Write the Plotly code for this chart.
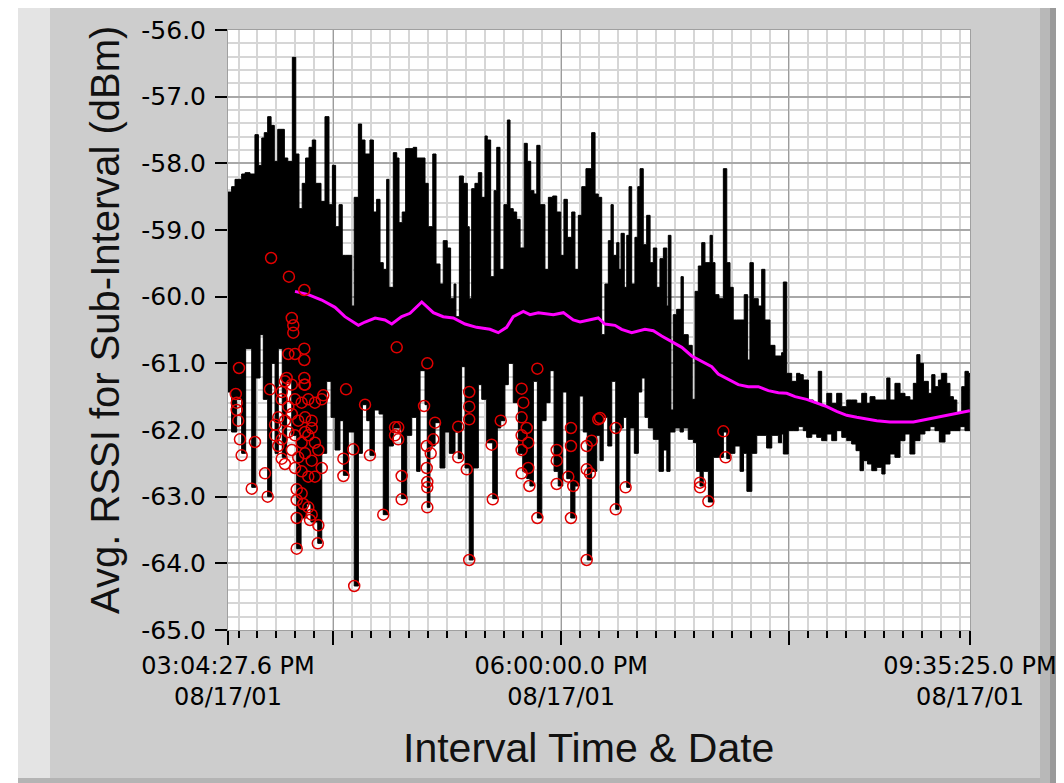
import pandas as pd
import plotly.graph_objects as go

# ---------------- data (minutes after 03:04:27.6 PM, dBm) ----------------
start_time = "2001-08-17 15:04:27.6"
end_time = "2001-08-17 21:35:25.0"

upper_min = [0.0, 1.9, 3.7, 7.2, 9.0, 11.6, 14.2, 16.0, 17.8, 19.1, 20.9, 22.7, 24.4, 26.2, 27.9, 29.7, 31.5, 33.9, 35.7, 37.4,
             39.1, 40.9, 42.7, 44.4, 46.2, 49.0, 51.1, 53.2, 55.0, 56.7, 58.5, 60.2, 62.0, 63.8, 65.2, 66.5, 68.7, 70.4, 72.2, 74.8,
             76.6, 78.3, 80.1, 81.8, 83.6, 84.8, 87.1, 88.9, 90.1, 91.8, 93.6, 95.9, 97.6, 99.4, 103.8, 105.5, 107.9, 109.6, 111.7, 113.4,
             115.5, 117.3, 119.1, 120.1, 121.9, 124.0, 126.1, 127.1, 128.4, 130.1, 131.9, 133.7, 135.4, 136.6, 138.4, 140.2, 141.6, 143.3, 145.4, 147.2,
             148.6, 150.3, 152.1, 153.9, 156.1, 157.7, 159.5, 161.2, 162.7, 164.4, 167.0, 168.8, 171.1, 173.2, 175.3, 177.0, 178.8, 181.1, 182.8, 184.6,
             186.4, 188.6, 191.6, 193.4, 195.1, 196.9, 198.6, 200.4, 201.8, 203.0, 204.8, 206.0, 207.1, 208.8, 210.1, 211.3, 212.7, 214.4, 215.9, 217.1,
             218.8, 220.6, 222.4, 224.1, 225.9, 227.6, 229.4, 231.2, 232.0, 233.4, 234.6, 236.4, 238.7, 239.9, 242.5, 244.6, 246.1, 247.8, 249.6, 251.3,
             254.0, 255.2, 256.6, 258.7, 261.0, 262.8, 264.5, 266.2, 268.0, 269.8, 272.0, 273.8, 275.0, 276.8, 279.4, 281.2, 282.9, 285.6, 288.2, 291.7,
             292.6, 294.4, 297.0, 299.6, 301.4, 303.1, 305.8, 308.4, 311.0, 312.8, 315.5, 318.1, 320.7, 323.4, 326.0, 328.6, 331.3, 333.9, 336.5, 338.3,
             340.9, 343.5, 345.3, 347.1, 348.8, 351.4, 354.1, 356.7, 359.3, 361.1, 362.9, 364.6, 366.4, 369.0, 370.8, 372.5, 374.3, 376.0, 378.7, 380.4,
             382.2, 384.0, 386.6, 388.3, 390.1, 390.9]
upper_val = [-58.43, -58.35, -58.24, -58.16, -58.14, -58.16, -57.57, -58.03, -57.62, -57.54, -57.30, -57.43, -57.97, -57.49, -57.49, -57.92, -57.97, -56.41, -57.86, -58.68,
             -58.30, -57.92, -57.76, -57.65, -58.30, -58.57, -57.30, -58.62, -58.03, -58.95, -58.62, -59.38, -59.38, -59.38, -60.14, -58.51, -57.41, -57.65, -57.86, -57.65,
             -58.73, -58.54, -59.49, -59.59, -58.24, -59.86, -57.84, -57.92, -58.89, -58.73, -57.78, -57.78, -57.76, -57.92, -58.30, -58.95, -57.86, -59.51, -59.81, -59.16,
             -59.27, -60.03, -59.81, -60.30, -58.19, -58.30, -58.95, -60.03, -58.38, -58.30, -58.14, -58.51, -57.59, -57.65, -59.70, -58.41, -57.76, -59.59, -58.62, -57.35,
             -58.68, -58.73, -58.84, -59.27, -57.70, -57.97, -58.41, -58.46, -57.73, -58.62, -59.59, -58.51, -58.49, -58.73, -59.38, -58.54, -59.11, -58.73, -59.59, -58.78,
             -58.35, -58.08, -57.54, -58.46, -58.51, -60.57, -59.81, -59.16, -58.62, -59.38, -59.19, -59.59, -59.05, -59.86, -59.08, -58.35, -59.81, -59.11, -58.35, -58.08,
             -59.22, -58.78, -59.49, -59.27, -59.86, -59.43, -59.27, -60.14, -59.08, -61.70, -60.27, -60.19, -59.70, -60.57, -60.73, -61.54, -59.92, -59.54, -59.19, -59.49,
             -59.08, -59.49, -59.97, -60.03, -58.08, -59.49, -59.86, -60.35, -60.35, -60.35, -59.97, -60.95, -59.49, -60.03, -60.14, -59.59, -60.35, -60.73, -60.89, -60.84,
             -59.78, -61.15, -61.27, -61.15, -61.17, -61.25, -61.55, -61.60, -61.12, -61.65, -61.45, -61.60, -61.45, -61.65, -61.55, -61.55, -61.60, -61.45, -61.60, -61.50,
             -61.55, -61.55, -61.55, -61.22, -61.55, -61.30, -61.45, -61.50, -61.55, -61.30, -60.87, -61.00, -61.27, -61.45, -61.17, -61.35, -61.25, -61.15, -61.30, -61.50,
             -61.55, -61.75, -61.35, -61.12, -61.15, -61.20]

lower_min = [0.0, 1.9, 4.6, 7.2, 9.3, 12.5, 14.6, 16.9, 18.6, 20.9, 23.0, 24.8, 26.5, 28.6, 30.9, 33.6, 36.2, 38.5, 41.5, 43.7,
             47.3, 49.4, 52.0, 54.3, 56.4, 59.0, 60.8, 63.4, 66.5, 68.7, 70.8, 73.1, 74.8, 77.1, 79.6, 81.8, 84.5, 87.1, 89.4, 91.5,
             94.2, 96.8, 99.4, 101.2, 103.8, 105.0, 106.4, 109.1, 111.7, 114.3, 116.6, 119.6, 121.3, 123.1, 124.9, 127.1, 129.2, 131.9, 133.7, 136.3,
             139.5, 141.9, 143.7, 145.9, 147.7, 150.3, 153.0, 155.3, 157.4, 159.1, 160.9, 163.0, 165.3, 167.6, 169.7, 171.8, 174.0, 176.4, 178.5, 180.6,
             182.8, 185.1, 187.2, 189.3, 191.6, 194.3, 196.0, 197.7, 200.1, 202.2, 204.3, 206.0, 208.3, 210.1, 211.8, 214.1, 216.2, 218.0, 219.7, 221.5,
             224.1, 227.1, 229.4, 231.2, 232.9, 235.5, 238.2, 239.9, 242.5, 245.2, 246.9, 248.7, 250.4, 253.1, 255.7, 258.3, 261.0, 262.8, 264.5, 267.1,
             269.8, 271.6, 273.4, 276.0, 278.6, 280.3, 283.8, 286.5, 290.0, 291.7, 292.6, 295.2, 297.9, 300.5, 303.1, 304.9, 307.6, 310.2, 312.8, 315.5,
             318.1, 320.7, 323.4, 326.0, 328.6, 330.9, 333.0, 334.8, 336.9, 339.2, 341.8, 344.5, 346.2, 348.8, 351.4, 354.1, 356.7, 359.3, 361.9, 364.6,
             367.2, 369.9, 372.5, 374.8, 377.8, 380.4, 383.0, 385.7, 388.3, 390.9]
lower_val = [-61.43, -62.03, -61.54, -62.35, -60.78, -62.86, -61.22, -60.57, -61.54, -63.00, -61.00, -62.35, -60.78, -62.41, -61.27, -62.08, -63.78, -63.32, -63.11, -63.38,
             -63.70, -62.35, -61.27, -61.81, -62.30, -61.86, -62.68, -62.03, -64.34, -62.35, -61.62, -61.86, -62.38, -61.70, -61.76, -63.27, -62.24, -61.97, -61.97, -63.03,
             -62.08, -61.81, -62.62, -61.11, -61.62, -63.16, -62.24, -61.89, -62.57, -62.03, -62.35, -62.03, -62.43, -61.05, -62.57, -63.95, -62.57, -61.32, -61.54, -62.19,
             -63.03, -61.97, -61.86, -61.32, -61.00, -61.59, -62.35, -62.62, -62.73, -62.84, -61.27, -63.32, -61.86, -61.59, -61.11, -62.62, -62.84, -61.43, -62.73, -63.32,
             -62.84, -61.49, -62.03, -63.95, -62.62, -62.08, -62.46, -61.81, -62.24, -61.27, -63.19, -61.97, -61.81, -62.86, -61.97, -62.35, -61.43, -61.22, -61.81, -61.97,
             -62.14, -62.62, -62.30, -62.62, -62.03, -61.97, -62.03, -61.97, -62.14, -62.19, -62.62, -62.84, -62.62, -63.08, -62.41, -62.41, -62.03, -62.43, -62.35, -62.24,
             -62.62, -62.35, -62.92, -62.35, -62.08, -62.08, -62.27, -62.08, -62.19, -62.06, -62.36, -62.01, -62.01, -61.95, -62.01, -62.11, -62.06, -62.11, -62.16, -62.06,
             -62.16, -62.01, -62.11, -62.16, -62.21, -62.31, -62.61, -62.46, -62.51, -62.61, -62.56, -62.66, -62.51, -62.36, -62.41, -62.16, -62.06, -62.36, -62.16, -62.06,
             -62.01, -61.95, -62.01, -62.18, -62.06, -62.01, -62.01, -61.95, -62.01, -62.01]

avg_min = [35.3, 42.3, 49.4, 56.4, 61.6, 68.7, 72.2, 77.5, 82.7, 86.3, 91.5, 95.9, 102.1, 108.2, 113.4, 118.7, 124.9, 131.0, 138.0, 142.4,
           146.8, 150.3, 155.6, 159.1, 163.5, 171.4, 176.7, 181.9, 185.5, 190.7, 195.1, 198.6, 203.9, 207.4, 212.7, 219.7, 224.1, 228.5, 233.8, 239.1,
           244.3, 249.6, 254.9, 258.3, 263.6, 268.9, 274.1, 279.4, 284.7, 290.0, 294.4, 298.8, 304.9, 310.2, 315.5, 320.7, 326.0, 331.3, 336.5, 341.8,
           348.8, 355.8, 361.1, 366.4, 371.6, 376.9, 382.2, 386.6, 390.9]
avg_val = [-59.92, -59.97, -60.05, -60.16, -60.30, -60.43, -60.38, -60.32, -60.35, -60.41, -60.30, -60.25, -60.08, -60.24, -60.30, -60.32, -60.41, -60.46, -60.49, -60.54,
           -60.46, -60.30, -60.22, -60.27, -60.24, -60.27, -60.24, -60.35, -60.38, -60.35, -60.32, -60.41, -60.43, -60.49, -60.54, -60.49, -60.51, -60.59, -60.68, -60.76,
           -60.89, -60.97, -61.05, -61.16, -61.24, -61.32, -61.35, -61.35, -61.41, -61.44, -61.45, -61.50, -61.54, -61.59, -61.65, -61.72, -61.78, -61.81, -61.84, -61.86,
           -61.88, -61.88, -61.88, -61.85, -61.82, -61.79, -61.76, -61.74, -61.71]

outlier_min = [22.7, 32.1, 40.2, 33.6, 34.4, 34.4, 31.8, 35.3, 40.2, 40.2, 5.8, 40.2, 40.2, 22.1, 30.0, 50.2, 62.2, 4.1, 4.6, 4.6,
               5.4, 6.3, 7.2, 14.2, 12.5, 19.5, 20.9, 28.3, 72.2, 74.8, 66.0, 60.8, 60.8, 88.9, 81.8, 88.0, 89.7, 88.0, 89.7, 91.5,
               91.5, 66.5, 28.3, 31.8, 35.3, 38.8, 42.3, 45.8, 26.5, 30.0, 33.6, 37.0, 40.6, 44.1, 24.8, 28.3, 31.8, 35.3, 38.8, 42.3,
               45.8, 47.6, 26.5, 33.6, 37.0, 40.6, 44.1, 49.4, 35.3, 38.8, 42.3, 45.8, 36.2, 38.8, 36.2, 39.7, 42.3, 44.1, 36.2, 43.2,
               47.6, 36.2, 47.3, 30.9, 33.6, 40.6, 28.3, 49.4, 24.8, 44.1, 40.6, 30.0,
               105.0, 103.3, 109.1, 108.2, 104.7, 106.8, 104.7, 105.0, 105.0, 105.0, 127.1, 127.1, 127.1, 121.3, 121.3, 125.8, 127.1, 143.7, 138.9, 139.5,
               154.7, 155.6, 154.7, 157.4, 154.7, 158.2, 154.7, 158.2, 154.7, 158.8, 163.0, 163.0, 173.2, 173.2, 173.2, 180.7, 180.7, 179.3, 181.9, 180.7,
               189.0, 191.6, 189.0, 190.7, 189.0, 195.1, 196.0, 204.3, 204.3, 209.5, 261.0, 262.2, 248.7, 248.7, 253.1]
outlier_val = [-59.42, -59.70, -59.90, -60.32, -60.43, -60.54, -60.86, -60.86, -60.78, -60.95, -61.07, -61.22, -61.32, -61.39, -61.27, -61.48, -61.39, -61.46, -61.59, -61.70,
               -61.86, -62.14, -62.38, -62.18, -62.88, -62.65, -63.00, -62.43, -61.62, -62.38, -62.29, -62.43, -62.69, -60.76, -63.27, -61.96, -61.96, -62.08, -62.14, -62.69,
               -63.04, -64.34, -61.54, -61.65, -61.54, -61.59, -61.54, -61.59, -61.81, -61.86, -61.76, -61.86, -61.81, -61.86, -62.08, -62.14, -62.03, -62.08, -62.19, -62.08,
               -62.19, -62.30, -62.24, -62.30, -62.41, -62.35, -62.46, -62.57, -62.57, -62.62, -62.70, -62.70, -62.89, -62.95, -63.05, -63.11, -63.16, -63.27, -63.32, -63.35,
               -63.43, -63.78, -63.70, -61.22, -61.32, -61.32, -61.43, -61.54, -61.92, -61.97, -62.03, -62.51,
               -61.00, -61.64, -61.89, -62.14, -62.24, -62.35, -62.57, -62.78, -62.86, -63.16, -61.43, -61.65, -61.84, -61.95, -62.41, -62.59, -63.95, -61.86, -62.22, -63.04,
               -61.38, -61.59, -61.81, -61.97, -62.08, -62.19, -62.30, -62.57, -62.65, -62.84, -61.08, -63.32, -62.30, -62.46, -62.81, -61.97, -62.24, -62.70, -62.84, -63.32,
               -62.24, -62.16, -62.59, -62.65, -63.95, -61.84, -61.82, -61.97, -63.19, -62.86, -62.02, -62.41, -62.79, -62.86, -63.07]

x_tick_vals = ["2001-08-17 15:04:27.6", "2001-08-17 16:00:00", "2001-08-17 18:00:00",
               "2001-08-17 20:00:00", "2001-08-17 21:35:25.0"]
x_tick_text = ["03:04:27.6 PM<br>08/17/01", "", "06:00:00.0 PM<br>08/17/01", "",
               "09:35:25.0 PM<br>08/17/01"]
y_tick_vals = [-65, -64, -63, -62, -61, -60, -59, -58, -57, -56]
y_tick_text = ["-65.0", "-64.0", "-63.0", "-62.0", "-61.0", "-60.0", "-59.0", "-58.0", "-57.0", "-56.0"]
y_title = "Avg. RSSI for Sub-Interval (dBm)"
x_title = "Interval Time & Date"

# ---------------- build ----------------
base = pd.Timestamp(start_time)


def to_time(mins):
    return base + pd.to_timedelta(mins, unit="min")


fig = go.Figure()
fig.add_trace(go.Scatter(x=to_time(upper_min), y=upper_val, mode="lines",
                         line=dict(color="black", width=1, shape="hv"), showlegend=False))
fig.add_trace(go.Scatter(x=to_time(lower_min), y=lower_val, mode="lines",
                         line=dict(color="black", width=1, shape="hv"),
                         fill="tonexty", fillcolor="black", showlegend=False))
fig.add_trace(go.Scatter(x=to_time(avg_min), y=avg_val, mode="lines",
                         line=dict(color="#ff00ff", width=3), showlegend=False))
fig.add_trace(go.Scatter(x=to_time(outlier_min), y=outlier_val, mode="markers",
                         marker=dict(symbol="circle-open", size=11, color="#e00000",
                                     line=dict(width=1.5, color="#e00000")),
                         showlegend=False))

# The page body adds an 8 px offset; the figure is laid out so the plot
# lands at screen x 228..970, y 30..630.
OFF = 8
W, H = 1064, 783
L, R, T, B = 220, 102, 22, 161
pw, ph = W - L - R, H - T - B


def px_x(px):
    return (px - OFF - L) / pw


def px_y(py):
    return 1 - (py - OFF - T) / ph


tick_font = dict(family="DejaVu Sans", size=24, color="black")

fig.update_layout(
    width=W, height=H,
    margin=dict(l=L, r=R, t=T, b=B, autoexpand=False),
    paper_bgcolor="#cdcdcd",
    plot_bgcolor="white",
    showlegend=False,
    xaxis=dict(
        type="date", automargin=False,
        range=[start_time, end_time],
        tickmode="array", tickvals=x_tick_vals, ticktext=x_tick_text,
        ticks="outside", ticklen=14, tickwidth=2, tickcolor="black",
        tickfont=tick_font,
        showgrid=True, gridcolor="#9c9c9c", gridwidth=1,
        minor=dict(dtick=600000, tick0="2001-08-17 15:00:00", ticks="outside",
                   ticklen=7, tickwidth=2, tickcolor="black",
                   showgrid=True, gridcolor="#d6d6d6", gridwidth=2),
        showline=True, linecolor="#a0a0a0", linewidth=1, mirror=True,
        zeroline=False,
    ),
    yaxis=dict(
        automargin=False,
        range=[-65, -56],
        tickmode="array", tickvals=y_tick_vals, ticktext=y_tick_text,
        ticks="outside", ticklen=12, tickwidth=2, tickcolor="black",
        ticklabelstandoff=4,
        tickfont=dict(family="DejaVu Sans", size=25, color="black"),
        showgrid=True, gridcolor="#a8a8a8", gridwidth=2,
        minor=dict(dtick=0.2, tick0=-65, showgrid=True, gridcolor="#d6d6d6", gridwidth=2),
        showline=True, linecolor="#a0a0a0", linewidth=1, mirror=True,
        zeroline=False,
    ),
)

# window frame (bevels), given in screen pixels
frame = [
    (0, 0, 18, H + OFF, "white"),
    (0, 0, W + OFF, 5, "white"),
    (18, 5, 50, H + OFF, "#e4e4e4"),
    (1040, 5, 1050, H + OFF, "#b8b8b8"),
    (1050, 5, W + OFF, H + OFF, "#9a9a9a"),
    (18, 778, 1040, H + OFF, "#b4b4b4"),
]
for x0, y0, x1, y1, c in frame:
    fig.add_shape(type="rect", xref="paper", yref="paper",
                  x0=px_x(x0), x1=px_x(x1), y0=px_y(y1), y1=px_y(y0),
                  fillcolor=c, line=dict(width=0), layer="below")

fig.add_annotation(text=y_title, xref="paper", yref="paper",
                   x=px_x(105), y=px_y(320), textangle=-90, showarrow=False,
                   xanchor="center", yanchor="middle",
                   font=dict(family="Liberation Sans", size=40, color="#111111"))
fig.add_annotation(text=x_title, xref="paper", yref="paper",
                   x=px_x(588), y=px_y(748), showarrow=False,
                   xanchor="center", yanchor="middle",
                   font=dict(family="Liberation Sans", size=41, color="#111111"))

fig.write_html("out.html")
